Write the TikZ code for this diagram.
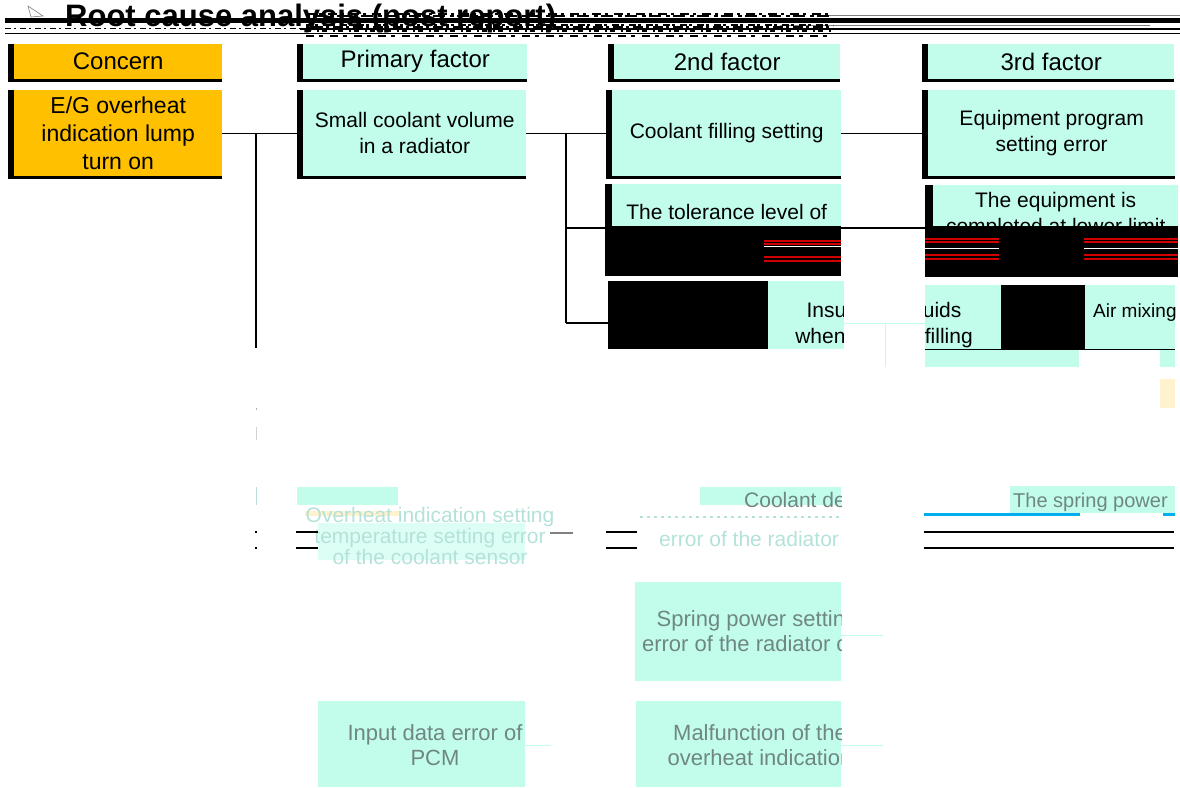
\documentclass[tikz,border=0pt]{standalone}
\usepackage{fontspec}
\setmainfont{Liberation Sans}
\usetikzlibrary{backgrounds,calc}
\definecolor{mint}{HTML}{C2FDEC}
\definecolor{orng}{HTML}{FFC000}
\definecolor{faint}{HTML}{6F8683}
\definecolor{pale}{HTML}{B4E2DA}
\definecolor{pyel}{HTML}{FFF2CC}
\definecolor{redl}{HTML}{D00000}
\newcommand\blkshadow[2][6]{\fill[black] ($(#2.north west)+(-#1,0)$) rectangle ($(#2.south east)+(0,3)$);}
\begin{document}
\begin{tikzpicture}[x=1pt,y=-1pt,
  box/.style={fill=mint, inner sep=0pt, anchor=north west, align=center, font=\fontsize{21}{26}\selectfont},
  hbox/.style={box, font=\fontsize{24}{28}\selectfont},
  conn/.style={draw=black, line width=1.4pt},
  ftxt/.style={text=faint, inner sep=0pt, align=center, font=\fontsize{22}{25}\selectfont},
  ltxt/.style={text=pale, inner sep=0pt, align=center, font=\fontsize{21}{18}\selectfont},
  noise/.style={draw=black, line width=1.6pt},
]
\useasboundingbox (0,0) rectangle (1180,787);

% ---------- title ----------
\draw[gray, line width=0.6pt] (28,6) -- (43,16) -- (31,17) -- cycle;
\node[anchor=base west, inner sep=0pt, font=\bfseries\fontsize{31}{31}\selectfont] (title) at (65,26) {Root cause analysis (post report)};
\fill[black] (5,18) rectangle (1180,23);
\draw[black, line width=0.8pt, dash pattern=on 6pt off 3pt on 2pt off 4pt] (5,28.5) -- (300,28.5);
\draw[black, line width=1.2pt] (300,29) -- (1180,29);
\draw[black, line width=1.2pt] (5,33.5) -- (1180,33.5);
\draw[gray, line width=0.8pt] (817,15.5) -- (1180,15.5);
\draw[gray, line width=0.8pt] (780,25.5) -- (1150,25.5);
\draw[noise, dash pattern=on 9pt off 4pt on 3pt off 6pt] (306,14) -- (833,14);
\draw[noise, dash pattern=on 4pt off 3pt on 12pt off 5pt] (306,16) -- (833,16);
\draw[noise, dash pattern=on 7pt off 2pt on 3pt off 5pt] (306,25) -- (833,25);
\draw[noise, dash pattern=on 3pt off 4pt on 10pt off 3pt] (306,27) -- (833,27);
\draw[noise, dash pattern=on 5pt off 6pt on 2pt off 3pt] (306,31) -- (833,31);
\draw[noise, dash pattern=on 8pt off 5pt on 4pt off 7pt] (306,36) -- (833,36);

% ---------- column boxes ----------
\node[hbox, fill=orng, minimum width=208pt, minimum height=35pt] (hc) at (14,44) {Concern};
\node[box, fill=orng, minimum width=208pt, minimum height=86pt, font=\fontsize{23}{28}\selectfont] (eg) at (14,90) {E/G overheat\\indication lump\\turn on};
\node[hbox, minimum width=224pt, minimum height=35pt] (hp) at (303,44) {Primary factor};
\node[box, minimum width=223pt, minimum height=86pt] (sc) at (303,90) {Small coolant volume\\in a radiator};
\node[hbox, minimum width=226pt, minimum height=35pt] (h2) at (614,44) {2nd factor};
\node[box, minimum width=229pt, minimum height=86pt] (cf) at (612,90) {Coolant filling setting};
\node[hbox, minimum width=246pt, minimum height=35pt] (h3) at (928,44) {3rd factor};
\node[box, minimum width=247pt, minimum height=86pt] (ep) at (928,90) {Equipment program\\setting error};
\node[box, minimum width=229pt, minimum height=89pt] (tol) at (612,184) {The tolerance level of\\\strut};
\node[box, minimum width=245pt, minimum height=89pt] (eis) at (933,185) {The equipment is\\completed at lower limit\\\strut};
\node[box, minimum width=236pt, minimum height=68pt] (ins) at (608,281) {};

\begin{scope}[on background layer]
  \blkshadow{hc} \blkshadow{eg} \blkshadow{hp} \blkshadow{sc}
  \blkshadow{h2} \blkshadow{cf} \blkshadow{h3} \blkshadow{ep}
  \blkshadow[7]{tol} \blkshadow[8]{eis}
\end{scope}

% ---------- connectors ----------
\coordinate (j1) at (256,133);
\coordinate (j1e) at (256,348);
\coordinate (j2) at (566,133);
\coordinate (j2e) at (566,323);
\coordinate (j2m) at (566,228);
\draw[conn] (eg.east) -- (sc.west);
\draw[conn] (j1) -- (j1e);
\draw[conn] (sc.east) -- (cf.west);
\draw[conn] (j2) -- (j2e);
\draw[conn] (j2m) -- (j2m -| tol.west);
\draw[conn] (j2e) -- (j2e -| ins.west);
\draw[conn] (cf.east) -- (ep.west);
\draw[conn] (tol.east |- j2m) -- (j2m -| eis.west);

% ---------- black / red glitch patches ----------
\fill[black] (605,226) rectangle (841,273);
\fill[black] (925,226) rectangle (1178,274);
\foreach \yy in {241,244,257,261}{
  \draw[redl, line width=1.4pt] (764,\yy) -- (841,\yy);
  \draw[redl, line width=1.4pt] (925,\yy-2) -- (999,\yy-2);
  \draw[redl, line width=1.4pt] (1084,\yy-2) -- (1178,\yy-2);
}
\draw[white, line width=0.6pt] (764,246) -- (841,246);
\draw[white, line width=0.6pt] (925,248) -- (999,248);
\draw[white, line width=0.6pt] (1084,248) -- (1178,248);

% ---------- row 3 ----------
\fill[mint] (925,285) rectangle (1001,349);
\fill[mint] (925,349) rectangle (1079,367);
\fill[mint] (1085,285) rectangle (1175,349);
\node[inner sep=0pt, align=center, font=\fontsize{21}{26}\selectfont] (instxt) at (884,325) {Insufficient fluids\\when coolant filling};
\fill[white] (844,281) rectangle (925,367);
\draw[mint, line width=0.8pt] (844,323) -- (925,323);
\draw[mint, line width=0.8pt] (885,323) -- (885,367);
\fill[black] (608,281) rectangle (768,349);
\fill[black] (1001,285) rectangle (1085,349);
\node[anchor=west, inner sep=0pt, font=\fontsize{19}{24}\selectfont] (air) at (1093,313) {Air mixing};
\draw[black, line width=1pt] (925,349) -- (1175,349);
\fill[mint] (1160,350) rectangle (1175,367);
\fill[pyel] (1160,379) rectangle (1175,408);

% ---------- lower, faded part ----------
\draw[gray!60, line width=1pt] (256,408) -- (256,410);
\draw[gray!35, line width=1pt] (256,427) -- (256,440);
\draw[pale, line width=1pt] (256,487) -- (256,505);
\fill[black] (255,531) rectangle (257,533);
\fill[black] (255,547) rectangle (257,549);

\fill[mint] (297,487) rectangle (398,505);
\fill[pyel] (305,511) rectangle (400,516);
\fill[mint!55] (318,523) rectangle (525,560);
\node[ltxt] (ov) at (430,536) {Overheat indication setting\\temperature setting error\\of the coolant sensor};

\draw[conn] (296,532) -- (318,532);
\draw[conn] (296,548) -- (318,548);
\draw[gray, line width=1.2pt] (550,533) -- (573,533);
\draw[conn] (606,532) -- (637,532);
\draw[conn] (606,548) -- (637,548);
\draw[conn] (924,532) -- (1174,532);
\draw[conn] (924,548) -- (1174,548);

\fill[mint] (700,487) rectangle (841,505);
\begin{scope}
  \clip (600,480) rectangle (841,560);
  \node[anchor=west, text=faint, inner sep=0pt, font=\fontsize{21}{26}\selectfont] (cd) at (744,500) {Coolant decrease};
  \draw[pale, line width=1.5pt, dash pattern=on 3pt off 4pt] (640,517) -- (841,517);
  \node[anchor=west, ltxt] (er) at (659,541) {error of the radiator cap};
\end{scope}

\fill[mint] (1010,486) rectangle (1175,513);
\node[anchor=west, text=faint, inner sep=0pt, font=\fontsize{20}{26}\selectfont] (sprg) at (1013,502) {The spring power};
\fill[cyan] (924,513) rectangle (1080,516);
\fill[cyan] (1163,513) rectangle (1175,516);

\node[box, minimum width=206pt, minimum height=99pt] (sp) at (635,582) {};
\begin{scope}
  \clip (635,582) rectangle (841,681);
  \node[ftxt] (sptxt) at (757,633) {Spring power setting\\error of the radiator cap};
\end{scope}
\coordinate (spe) at (883,635);
\draw[mint, line width=1pt] (sp.east |- spe) -- (spe);

\node[box, minimum width=205pt, minimum height=86pt] (mf) at (636,701) {};
\begin{scope}
  \clip (636,701) rectangle (841,787);
  \node[ftxt] (mftxt) at (760,745) {Malfunction of the\\overheat indication};
\end{scope}
\coordinate (mfe) at (883,745);
\draw[mint, line width=1pt] (mf.east |- mfe) -- (mfe);

\node[box, minimum width=207pt, minimum height=86pt] (ip) at (318,701) {};
\begin{scope}
  \clip (318,701) rectangle (525,787);
  \node[ftxt] (iptxt) at (435,745) {Input data error of\\PCM};
\end{scope}
\coordinate (ipe) at (551,745);
\draw[mint, line width=1pt] (ip.east |- ipe) -- (ipe);
\end{tikzpicture}
\end{document}
